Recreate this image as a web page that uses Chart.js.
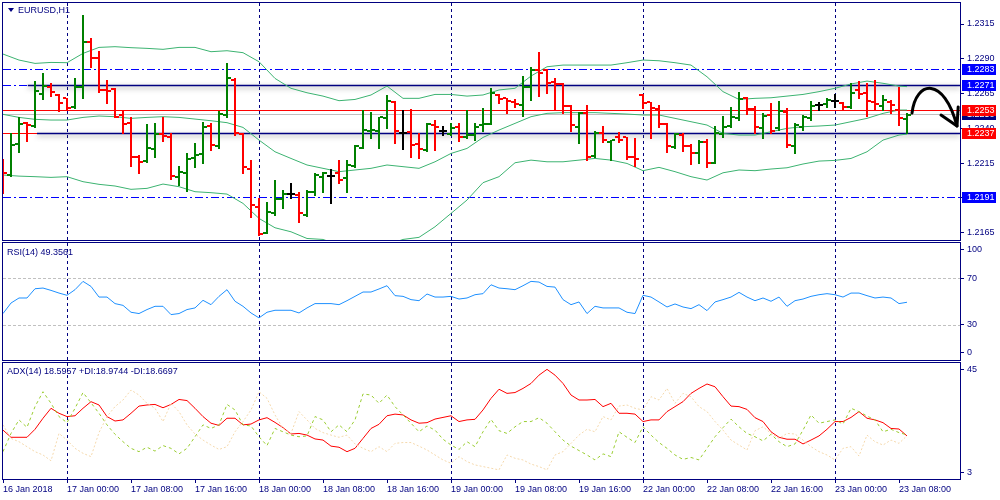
<!DOCTYPE html>
<html lang="en">
<head>
<meta charset="UTF-8">
<title>EURUSD,H1</title>
<style>
  body { margin: 0; background: #fff; width: 1000px; height: 500px; overflow: hidden; position: relative;
         font-family: 'Liberation Sans', Arial, sans-serif; }
  canvas { position: absolute; left: 0; }
  .lbl { position: absolute; font-size: 9px; line-height: 11px; color: #000080; white-space: nowrap; }
  .tri { position: absolute; left: 8px; top: 8px; width: 0; height: 0;
         border-left: 3px solid transparent; border-right: 3px solid transparent; border-top: 4px solid #000080; }
</style>
</head>
<body>
<canvas id="main" width="1000" height="242" style="top:0"></canvas>
<canvas id="rsi" width="1000" height="122" style="top:240px"></canvas>
<canvas id="adx" width="1000" height="140" style="top:360px"></canvas>
<div class="tri"></div>
<div class="lbl" style="left:18px;top:5px">EURUSD,H1</div>
<div class="lbl" style="left:7px;top:247px">RSI(14) 49.3561</div>
<div class="lbl" style="left:7px;top:366px">ADX(14) 18.5957 +DI:18.9744 -DI:18.6697</div>

<script src="https://cdn.jsdelivr.net/npm/chart.js"></script>
<script>
// --- time axis (hourly bars, index 0 = 16 Jan 16:00) ---
const timeTickIdx = [0, 8, 16, 24, 32, 40, 48, 56, 64, 72, 80, 88, 96, 104, 112];
const timeTickLabels = ['16 Jan 2018', '17 Jan 00:00', '17 Jan 08:00', '17 Jan 16:00', '18 Jan 00:00',
    '18 Jan 08:00', '18 Jan 16:00', '19 Jan 00:00', '19 Jan 08:00', '19 Jan 16:00', '22 Jan 00:00',
    '22 Jan 08:00', '22 Jan 16:00', '23 Jan 00:00', '23 Jan 08:00'];
const daySeparators = [8, 32, 56, 80, 104];

// --- EURUSD H1 bars ---
const opens = [
    1.22148,1.22065,1.22288,1.22436,1.22417,1.22644,1.22695,1.22640,1.22616,1.22556,
    1.22695,1.23023,1.22903,1.22676,1.22680,1.22496,1.22436,1.22196,1.22165,1.22251,
    1.22357,1.22340,1.22053,1.22077,1.22189,1.22216,1.22419,1.22273,1.22496,1.22748,
    1.22360,1.22105,1.21837,1.21650,1.21794,1.21890,1.21926,1.21921,1.21777,1.21945,
    1.22053,1.22060,1.22077,1.22041,1.22130,1.22261,1.22383,1.22381,1.22472,1.22592,
    1.22364,1.22376,1.22288,1.22244,1.22424,1.22381,1.22360,1.22412,1.22340,1.22352,
    1.22424,1.22431,1.22640,1.22616,1.22592,1.22568,1.22695,1.22819,1.22819,1.22731,
    1.22716,1.22563,1.22412,1.22508,1.22201,1.22364,1.22304,1.22340,1.22335,1.22192,
    1.22640,1.22587,1.22537,1.22431,1.22268,1.22352,1.22276,1.22220,1.22304,1.22153,
    1.22360,1.22417,1.22472,1.22616,1.22537,1.22400,1.22496,1.22400,1.22520,1.22273,
    1.22412,1.22472,1.22568,1.22575,1.22599,1.22584,1.22556,1.22676,1.22652,1.22592,
    1.22560,1.22592,1.22532,1.22470];
const highs = [
    1.22177,1.22364,1.22479,1.22448,1.22740,1.22795,1.22724,1.22647,1.22620,1.22759,
    1.23215,1.23047,1.22958,1.22748,1.22688,1.22532,1.22484,1.22208,1.22431,1.22436,
    1.22484,1.22364,1.22132,1.22220,1.22292,1.22448,1.22436,1.22525,1.22872,1.22759,
    1.22364,1.22172,1.21897,1.21873,1.22029,1.21957,1.22005,1.21945,1.21957,1.22081,
    1.22089,1.22108,1.22172,1.22172,1.22280,1.22532,1.22520,1.22484,1.22640,1.22597,
    1.22532,1.22539,1.22364,1.22436,1.22460,1.22417,1.22441,1.22441,1.22532,1.22441,
    1.22544,1.22688,1.22644,1.22620,1.22608,1.22776,1.22843,1.22951,1.22826,1.22759,
    1.22724,1.22568,1.22520,1.22568,1.22381,1.22417,1.22316,1.22376,1.22340,1.22328,
    1.22644,1.22592,1.22568,1.22436,1.22364,1.22364,1.22285,1.22316,1.22321,1.22417,
    1.22489,1.22551,1.22664,1.22623,1.22560,1.22508,1.22580,1.22599,1.22544,1.22441,
    1.22496,1.22597,1.22592,1.22616,1.22647,1.22592,1.22724,1.22743,1.22728,1.22748,
    1.22640,1.22604,1.22700,1.22508];
const lows = [
    1.21938,1.22057,1.22232,1.22311,1.22412,1.22613,1.22635,1.22525,1.22532,1.22544,
    1.22620,1.22843,1.22664,1.22580,1.22479,1.22364,1.22132,1.22077,1.22160,1.22196,
    1.22307,1.22038,1.21993,1.21952,1.22125,1.22148,1.22244,1.22256,1.22484,1.22352,
    1.22077,1.21765,1.21633,1.21645,1.21777,1.21825,1.21897,1.21729,1.21770,1.21921,
    1.21945,1.21861,1.22010,1.21945,1.22125,1.22256,1.22328,1.22256,1.22405,1.22297,
    1.22254,1.22196,1.22184,1.22237,1.22244,1.22352,1.22350,1.22307,1.22333,1.22316,
    1.22383,1.22431,1.22580,1.22513,1.22551,1.22489,1.22604,1.22632,1.22656,1.22537,
    1.22513,1.22381,1.22297,1.22172,1.22196,1.22304,1.22172,1.22304,1.22177,1.22130,
    1.22544,1.22328,1.22407,1.22232,1.22256,1.22237,1.22144,1.22153,1.22125,1.22148,
    1.22335,1.22407,1.22460,1.22503,1.22369,1.22328,1.22369,1.22388,1.22268,1.22225,
    1.22388,1.22460,1.22532,1.22556,1.22556,1.22532,1.22544,1.22616,1.22489,1.22532,
    1.22532,1.22508,1.22424,1.22364];
const closes = [
    1.22077,1.22278,1.22431,1.22424,1.22668,1.22704,1.22659,1.22580,1.22544,1.22695,
    1.23018,1.22903,1.22676,1.22671,1.22484,1.22431,1.22196,1.22158,1.22256,1.22360,
    1.22345,1.22057,1.22089,1.22177,1.22208,1.22412,1.22280,1.22503,1.22759,1.22364,
    1.22125,1.21849,1.21638,1.21799,1.21890,1.21926,1.21926,1.21794,1.21945,1.22065,
    1.22081,1.22060,1.22029,1.22136,1.22273,1.22388,1.22388,1.22479,1.22599,1.22381,
    1.22364,1.22280,1.22251,1.22431,1.22412,1.22381,1.22400,1.22335,1.22352,1.22412,
    1.22431,1.22656,1.22608,1.22597,1.22575,1.22695,1.22819,1.22800,1.22724,1.22719,
    1.22560,1.22424,1.22508,1.22196,1.22364,1.22316,1.22314,1.22316,1.22196,1.22177,
    1.22580,1.22544,1.22431,1.22276,1.22357,1.22276,1.22225,1.22304,1.22148,1.22364,
    1.22412,1.22484,1.22608,1.22537,1.22407,1.22489,1.22383,1.22527,1.22280,1.22424,
    1.22479,1.22560,1.22568,1.22604,1.22599,1.22551,1.22656,1.22647,1.22599,1.22575,
    1.22604,1.22568,1.22472,1.22496];

// --- Bollinger bands (read every second bar) ---
const bbIdx = [0,2,4,6,8,10,12,14,16,18,20,22,24,26,28,30,32,34,36,38,40,42,44,46,48,50,52,54,56,58,
    60,62,64,66,68,70,72,74,76,78,80,82,84,86,88,90,92,94,96,98,100,102,104,106,108,110,112,113];
const bbUpper = [
    1.22934,1.22891,1.22867,1.22874,1.22872,1.22939,1.22982,1.22987,1.22980,1.22975,
    1.22968,1.22982,1.22982,1.22951,1.22958,1.22944,1.22879,1.22759,1.22688,1.22656,
    1.22632,1.22599,1.22608,1.22640,1.22704,1.22616,1.22616,1.22644,1.22644,1.22632,
    1.22640,1.22676,1.22688,1.22776,1.22843,1.22855,1.22855,1.22855,1.22855,1.22872,
    1.22891,1.22886,1.22872,1.22855,1.22771,1.22664,1.22608,1.22616,1.22620,1.22632,
    1.22644,1.22664,1.22688,1.22719,1.22740,1.22724,1.22704,1.22700];
const bbMiddle = [
    1.22501,1.22479,1.22465,1.22460,1.22460,1.22479,1.22489,1.22484,1.22472,1.22479,
    1.22484,1.22479,1.22467,1.22455,1.22441,1.22407,1.22316,1.22232,1.22184,1.22137,
    1.22113,1.22089,1.22101,1.22113,1.22137,1.22125,1.22113,1.22160,1.22220,1.22256,
    1.22335,1.22388,1.22436,1.22484,1.22508,1.22513,1.22513,1.22513,1.22508,1.22503,
    1.22496,1.22496,1.22472,1.22448,1.22424,1.22364,1.22352,1.22352,1.22376,1.22400,
    1.22412,1.22417,1.22424,1.22448,1.22472,1.22508,1.22532,1.22532];
const bbLower = [
    1.22065,1.22057,1.22053,1.22048,1.22053,1.22017,1.21998,1.21986,1.21962,1.21969,
    1.22000,1.21981,1.21945,1.21938,1.21928,1.21861,1.21753,1.21686,1.21657,1.21609,
    1.21602,1.21561,1.21538,1.21538,1.21561,1.21602,1.21617,1.21693,1.21789,1.21885,
    1.22010,1.22053,1.22153,1.22172,1.22160,1.22160,1.22172,1.22184,1.22172,1.22148,
    1.22096,1.22120,1.22089,1.22053,1.22029,1.22081,1.22101,1.22096,1.22108,1.22117,
    1.22144,1.22165,1.22170,1.22184,1.22232,1.22316,1.22352,1.22359];

// --- RSI(14) ---
const rsi = [
    39.7,48.7,53.0,53.0,60.9,61.5,59.5,57.2,55.3,60.1,
    67.2,62.9,53.8,53.8,48.2,46.7,40.8,39.7,43.1,45.9,
    45.9,38.8,39.7,43.1,44.5,51.0,47.3,54.4,60.1,50.2,
    45.9,40.2,36.0,40.8,42.5,42.5,42.5,40.2,44.5,48.2,
    48.2,48.2,47.3,50.7,54.4,58.1,58.1,60.7,63.5,55.0,
    54.4,51.6,50.7,56.4,53.8,53.8,54.4,52.1,53.0,55.8,
    56.7,64.3,61.5,60.9,60.1,63.5,67.2,66.6,62.9,62.3,
    51.6,47.3,49.6,39.7,45.9,44.5,44.5,44.5,40.8,39.7,
    55.3,53.8,49.6,45.3,47.9,45.3,43.9,47.3,42.2,49.6,
    51.6,53.8,57.8,53.8,50.7,53.0,50.2,53.8,45.9,50.7,
    52.1,54.4,55.8,56.7,55.8,53.8,57.2,57.2,55.0,53.0,
    53.8,53.0,48.2,49.3561];
const rsiLevels = [30, 70];

// --- ADX(14) ---
const adx = [
    20.7,18.1,18.1,18.1,21.0,25.0,28.6,26.8,25.6,25.9,
    28.6,31.0,29.8,25.6,24.0,24.4,26.8,29.4,29.8,30.0,
    28.8,30.0,31.8,31.4,28.6,25.6,23.2,22.4,25.0,25.0,
    22.6,22.9,24.4,25.2,23.5,21.6,19.3,19.5,18.9,17.5,
    17.1,14.9,14.5,12.9,14.1,17.7,21.3,22.8,25.9,26.5,
    26.2,24.4,23.2,23.4,24.7,25.3,25.9,23.8,24.4,24.6,
    28.0,32.2,35.5,34.0,34.3,35.8,37.6,40.6,42.7,40.6,
    37.6,33.4,31.6,31.6,31.8,29.2,30.4,26.8,26.8,26.5,
    23.8,24.4,24.4,27.4,29.2,31.0,34.0,35.8,37.4,36.4,
    32.8,29.4,29.2,28.2,25.2,23.8,20.1,18.1,17.4,17.4,
    15.7,17.1,18.6,21.0,23.8,23.8,25.3,27.4,25.0,24.4,
    23.4,21.3,21.1,18.5957];
const plusDI = [
    12.9,19.5,24.4,21.7,29.2,34.6,30.4,25.6,23.4,28.6,
    34.3,30.6,26.8,22.6,19.2,16.5,14.1,12.9,14.5,13.1,
    15.1,14.1,12.1,14.1,18.3,22.6,21.3,22.6,30.0,28.0,
    22.6,22.2,18.3,15.1,21.3,20.1,18.9,18.3,18.6,25.6,
    24.4,20.1,22.6,20.1,24.4,33.8,33.4,30.4,33.4,29.2,
    26.2,23.2,20.1,22.2,20.7,17.4,15.3,13.7,16.5,14.7,
    20.1,24.6,20.5,19.5,21.9,23.8,23.8,25.2,23.2,20.1,
    17.1,14.9,13.3,11.7,9.9,12.1,11.1,20.1,18.1,16.2,
    21.9,18.9,16.2,14.1,11.7,10.1,10.8,9.9,14.1,18.3,
    21.6,24.7,21.9,19.5,18.3,16.8,19.2,16.5,14.7,15.7,
    20.7,26.2,23.2,23.8,24.4,22.9,28.6,27.4,25.8,24.4,
    20.1,21.0,19.8,18.9744];
const minusDI = [
    22.6,17.7,16.5,14.7,12.9,11.7,9.6,19.5,17.1,14.1,
    12.3,11.1,19.8,25.6,29.2,31.6,35.2,33.4,30.4,28.6,
    23.8,30.4,27.4,22.6,19.3,17.1,15.3,13.7,14.7,20.1,
    23.8,28.0,34.6,32.2,26.2,21.3,19.5,27.4,24.4,21.3,
    19.8,18.9,18.1,18.9,15.7,14.1,12.9,14.7,12.9,15.9,
    16.2,16.2,14.9,13.5,11.7,9.9,8.7,11.1,9.3,8.1,
    7.5,6.9,6.3,11.7,10.5,9.9,8.4,7.5,6.3,11.7,
    12.9,15.9,18.9,21.0,20.1,25.6,24.4,29.4,29.8,28.6,
    28.0,32.8,31.6,35.8,30.4,34.0,32.8,29.2,27.4,23.8,
    20.7,17.1,15.3,13.5,20.5,21.9,19.5,17.7,19.5,19.3,
    17.1,14.7,12.9,11.7,9.9,14.1,14.7,11.3,18.9,16.5,
    15.3,17.1,15.9,18.6697];

// --- axis ticks ---
const priceTicks = [1.2165, 1.2190, 1.2215, 1.2240, 1.2265, 1.2290, 1.2315];
const rsiTickValues = [6.2, 30, 70, 94.7];      // MT4 pulls the 0/100 captions inward
const rsiTickLabels = ['0', '30', '70', '100'];
const adxTickValues = [5.4, 42.7];
const adxTickLabels = ['3', '45'];

// --- chart objects ---
const dashDotLevels = [1.2283, 1.2271, 1.2191];
const redLevels = [1.2253, 1.2237];
const bidPrice = 1.2250;
const shadowLinePrices = [1.2271, 1.2237];
const shadowLineStart = [3.1, 4.25];
const tagPrices = [1.2283, 1.2271, 1.2191, 1.2250, 1.2253, 1.2237];
const tagColors = ['#0000ff', '#0000ff', '#0000ff', '#000080', '#ff0000', '#ff0000'];
const arrowCurve = [[113.625, 1.22510], [114.125, 1.22748], [117.625, 1.22776], [119.25, 1.22417]];
const arrowHead = [[117.25, 1.22496], [119.25, 1.22417], [119.4, 1.22554]];

const NAVY = '#000080';
const tickFont = { family: "'Liberation Sans', Arial, sans-serif", size: 9 };
Chart.defaults.font.family = tickFont.family;

function xScale(show) {
    return {
        type: 'linear', min: 0, max: 119.625, display: show,
        afterBuildTicks: s => { s.ticks = timeTickIdx.map(v => ({ value: v })); },
        afterFit: s => {
            if (!show) return;
            s.height = 21; s.paddingLeft = 0; s.paddingRight = 0;
        },
        ticks: { autoSkip: false, maxRotation: 0, align: 'start', padding: 1, color: NAVY, font: tickFont,
                 callback: (v, i) => timeTickLabels[i] },
        grid: { drawOnChartArea: false, tickLength: 4, tickColor: NAVY },
        border: { display: false }
    };
}

function yScale(min, max, values, labels) {
    return {
        position: 'right', min: min, max: max,
        afterBuildTicks: s => { s.ticks = values.map(v => ({ value: v })); },
        afterFit: s => { s.width = 40; s.paddingTop = 0; s.paddingBottom = 0; },
        ticks: { padding: 3, color: NAVY, font: tickFont, callback: (v, i) => labels[i] },
        grid: { drawOnChartArea: false, tickLength: 4, tickColor: NAVY },
        border: { display: false }
    };
}

function baseOptions(x, y, bottomPad) {
    return {
        responsive: false, animation: false, devicePixelRatio: 1,
        layout: { padding: { left: 3, top: 3, right: 0, bottom: bottomPad } },
        plugins: { legend: { display: false }, tooltip: { enabled: false } },
        elements: { point: { radius: 0 }, line: { tension: 0, borderWidth: 1 } },
        scales: { x: x, y: y }
    };
}

function series(xs, ys) { return xs.map((v, k) => ({ x: v, y: ys[k] })); }
const barIdx = rsi.map((v, i) => i);

function hLine(ctx, a, py, from) {
    const yy = Math.round(py) + 0.5;
    ctx.beginPath(); ctx.moveTo(from, yy); ctx.lineTo(a.right, yy); ctx.stroke();
}

// frame + day separators, shared by all panes
const panePlugin = {
    id: 'pane',
    beforeDatasetsDraw(chart) {
        const { ctx, chartArea: a, scales: { x } } = chart;
        ctx.save();
        ctx.strokeStyle = NAVY; ctx.lineWidth = 1; ctx.setLineDash([3, 3]);
        daySeparators.forEach(i => {
            const px = Math.round(x.getPixelForValue(i)) + 0.5;
            ctx.beginPath(); ctx.moveTo(px, a.top); ctx.lineTo(px, a.bottom); ctx.stroke();
        });
        ctx.restore();
    },
    afterDraw(chart) {
        const { ctx, chartArea: a } = chart;
        ctx.save();
        ctx.strokeStyle = NAVY; ctx.lineWidth = 1;
        ctx.strokeRect(a.left - 0.5, a.top - 0.5, a.right - a.left + 1, a.bottom - a.top + 1);
        ctx.restore();
    }
};

const mainPlugin = {
    id: 'mainObjects',
    beforeDatasetsDraw(chart) {
        const { ctx, chartArea: a, scales: { x, y } } = chart;
        ctx.save();
        ctx.lineWidth = 1;
        ctx.strokeStyle = '#c0c0c0';
        hLine(ctx, a, y.getPixelForValue(bidPrice), a.left);
        ctx.strokeStyle = '#ff0000';
        redLevels.forEach(p => hLine(ctx, a, y.getPixelForValue(p), a.left));
        ctx.strokeStyle = '#0000ff'; ctx.setLineDash([8, 3, 2, 3]);
        dashDotLevels.forEach(p => hLine(ctx, a, y.getPixelForValue(p), a.left));
        ctx.setLineDash([]);
        ctx.shadowColor = 'rgba(60,60,60,0.55)'; ctx.shadowBlur = 5; ctx.shadowOffsetY = 2;
        ctx.strokeStyle = NAVY; ctx.lineWidth = 1.5;
        shadowLinePrices.forEach((p, k) => hLine(ctx, a, y.getPixelForValue(p), x.getPixelForValue(shadowLineStart[k])));
        ctx.restore();
    },
    afterDatasetsDraw(chart) {
        const { ctx, chartArea: a, scales: { x, y } } = chart;
        ctx.save();
        ctx.beginPath(); ctx.rect(a.left, a.top, a.right - a.left, a.bottom - a.top); ctx.clip();
        for (let i = 0; i < opens.length; i++) {
            const px = Math.round(x.getPixelForValue(i));
            const hi = Math.round(y.getPixelForValue(highs[i]));
            const lo = Math.round(y.getPixelForValue(lows[i]));
            const o = Math.round(y.getPixelForValue(opens[i]));
            const c = Math.round(y.getPixelForValue(closes[i]));
            ctx.fillStyle = closes[i] > opens[i] ? '#008000' : closes[i] < opens[i] ? '#ff0000' : '#000000';
            ctx.fillRect(px - 1, hi, 2, lo - hi + 1);
            ctx.fillRect(px - 4, o - 1, 3, 2);
            ctx.fillRect(px + 1, c - 1, 3, 2);
        }
        ctx.restore();
    },
    afterDraw(chart) {
        const { ctx, chartArea: a, scales: { x, y } } = chart;
        const pt = p => [x.getPixelForValue(p[0]), y.getPixelForValue(p[1])];
        ctx.save();
        // hand drawn arrow
        ctx.strokeStyle = '#000'; ctx.lineWidth = 3; ctx.lineCap = 'round'; ctx.lineJoin = 'round';
        const c = arrowCurve.map(pt);
        ctx.beginPath(); ctx.moveTo(c[0][0], c[0][1]);
        ctx.bezierCurveTo(c[1][0], c[1][1], c[2][0], c[2][1], c[3][0], c[3][1]);
        ctx.stroke();
        const h = arrowHead.map(pt);
        ctx.beginPath(); ctx.moveTo(h[0][0], h[0][1]); ctx.lineTo(h[1][0], h[1][1]); ctx.lineTo(h[2][0], h[2][1]);
        ctx.stroke();
        // price tags on the axis
        ctx.font = '9px ' + tickFont.family; ctx.textBaseline = 'middle'; ctx.textAlign = 'left';
        tagPrices.forEach((p, k) => {
            const py = Math.round(y.getPixelForValue(p));
            ctx.fillStyle = tagColors[k];
            ctx.fillRect(a.right + 2, py - 5, 34, 11);
            ctx.fillStyle = '#ffffff';
            ctx.fillText(p.toFixed(4), a.right + 7, py + 0.5);
        });
        ctx.restore();
    }
};

const rsiPlugin = {
    id: 'rsiLevels',
    beforeDatasetsDraw(chart) {
        const { ctx, chartArea: a, scales: { y } } = chart;
        ctx.save();
        ctx.strokeStyle = '#c0c0c0'; ctx.lineWidth = 1; ctx.setLineDash([3, 2]);
        rsiLevels.forEach(v => hLine(ctx, a, y.getPixelForValue(v), a.left));
        ctx.restore();
    }
};

new Chart(document.getElementById('main'), {
    type: 'line',
    data: {
        datasets: [
            { data: series(bbIdx, bbUpper), borderColor: '#3cb371' },
            { data: series(bbIdx, bbMiddle), borderColor: '#3cb371' },
            { data: series(bbIdx, bbLower), borderColor: '#3cb371' }
        ]
    },
    options: baseOptions(xScale(false), yScale(1.21598, 1.23301, priceTicks, priceTicks.map(v => v.toFixed(4))), 2),
    plugins: [panePlugin, mainPlugin]
});

new Chart(document.getElementById('rsi'), {
    type: 'line',
    data: { datasets: [{ data: series(barIdx, rsi), borderColor: '#1e90ff' }] },
    options: baseOptions(xScale(false), yScale(0, 100, rsiTickValues, rsiTickLabels), 2),
    plugins: [panePlugin, rsiPlugin]
});

new Chart(document.getElementById('adx'), {
    type: 'line',
    data: {
        datasets: [
            { data: series(barIdx, minusDI), borderColor: '#f5d9ad', borderDash: [2, 2] },
            { data: series(barIdx, plusDI), borderColor: '#9acd32', borderDash: [3, 3] },
            { data: series(barIdx, adx), borderColor: '#ff0000' }
        ]
    },
    options: baseOptions(xScale(true), yScale(3, 45, adxTickValues, adxTickLabels), 0),
    plugins: [panePlugin]
});
</script>
</body>
</html>
